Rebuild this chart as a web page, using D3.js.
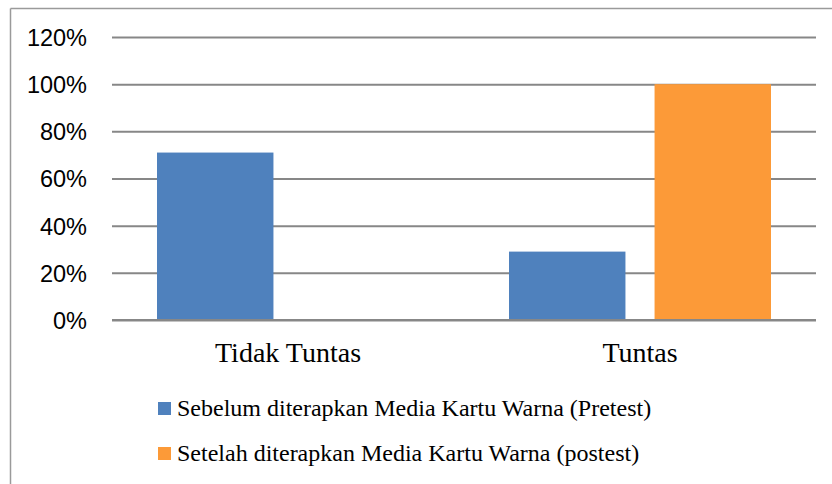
<!DOCTYPE html>
<html><head><meta charset="utf-8">
<script src="https://cdn.jsdelivr.net/npm/d3@7/dist/d3.min.js"></script>
<style>html,body{margin:0;padding:0;background:#fff;}svg{display:block;}</style>
</head><body>
<script>
const categories = ["Tidak Tuntas", "Tuntas"];
const seriesNames = ["Sebelum diterapkan Media Kartu Warna (Pretest)", "Setelah diterapkan Media Kartu Warna (postest)"];
const pretest = [0.71, 0.29];
const postest = [0, 1.00];
const yTicks = [0, 0.2, 0.4, 0.6, 0.8, 1.0, 1.2];
const colors = ["#4F81BD", "#FC9A38"];

const W = 832, H = 484;
const svg = d3.select("body").append("svg").attr("width", W).attr("height", H);

// outer frame (top & left visible)
svg.append("line").attr("x1", 10.5).attr("x2", W).attr("y1", 8.5).attr("y2", 8.5).attr("stroke", "#9a9a9a").attr("stroke-width", 1.5);
svg.append("line").attr("x1", 10.5).attr("x2", 10.5).attr("y1", 8.5).attr("y2", H).attr("stroke", "#9a9a9a").attr("stroke-width", 1.5);

const plotL = 112, plotR = 816, plotT = 37, plotB = 320;
const y = d3.scaleLinear().domain([0, 1.2]).range([plotB, plotT]);
const x0 = d3.scaleBand().domain(categories).range([plotL, plotR]).padding(0);
const x1 = d3.scaleBand().domain([0, 1]).range([45, x0.bandwidth() - 45]).paddingInner(0.2);

// gridlines
const yAxis = d3.axisLeft(y).tickValues(yTicks).tickSize(-(plotR - plotL)).tickFormat(d3.format(".0%"));
const gy = svg.append("g").attr("transform", `translate(${plotL},0)`).call(yAxis);
gy.select(".domain").remove();
gy.selectAll(".tick line").attr("stroke", "#878787").attr("stroke-width", 2);
gy.selectAll(".tick text").attr("x", -25).attr("dy", "0.36em")
  .style("font-family", "'Liberation Sans', Arial, sans-serif").style("font-size", "23.5px").attr("fill", "#000");

// bars
const rows = categories.map((c, i) => ({cat: c, vals: [pretest[i], postest[i]]}));
const groups = svg.append("g").selectAll("g").data(rows).join("g")
  .attr("transform", d => `translate(${x0(d.cat)},0)`);
groups.selectAll("rect").data(d => d.vals.map((v, j) => ({v, j}))).join("rect")
  .filter(d => d.v > 0)
  .attr("x", d => x1(d.j)).attr("width", x1.bandwidth())
  .attr("y", d => y(d.v)).attr("height", d => y(0) - y(d.v))
  .attr("fill", d => colors[d.j]);

// x axis line redraw on top
svg.append("line").attr("x1", plotL).attr("x2", plotR).attr("y1", y(0)).attr("y2", y(0)).attr("stroke", "#878787").attr("stroke-width", 2);

// category labels
const xAxis = d3.axisBottom(x0).tickSize(0).tickPadding(0);
const gx = svg.append("g").attr("transform", `translate(0,${plotB})`).call(xAxis);
gx.select(".domain").remove();
gx.selectAll(".tick text").attr("y", 42).attr("dy", 0)
  .style("font-family", "'Liberation Serif', 'Times New Roman', serif").style("font-size", "28px").attr("fill", "#000");

// legend
const leg = svg.append("g");
seriesNames.forEach((s, i) => {
  const yy = 402 + i * 45;
  leg.append("rect").attr("x", 158).attr("y", yy).attr("width", 13).attr("height", 13).attr("fill", colors[i]);
  leg.append("text").attr("x", 177).attr("y", yy + 14).text(s)
    .style("font-family", "'Liberation Serif', 'Times New Roman', serif").style("font-size", "24px").attr("fill", "#000");
});
</script>
</body></html>
